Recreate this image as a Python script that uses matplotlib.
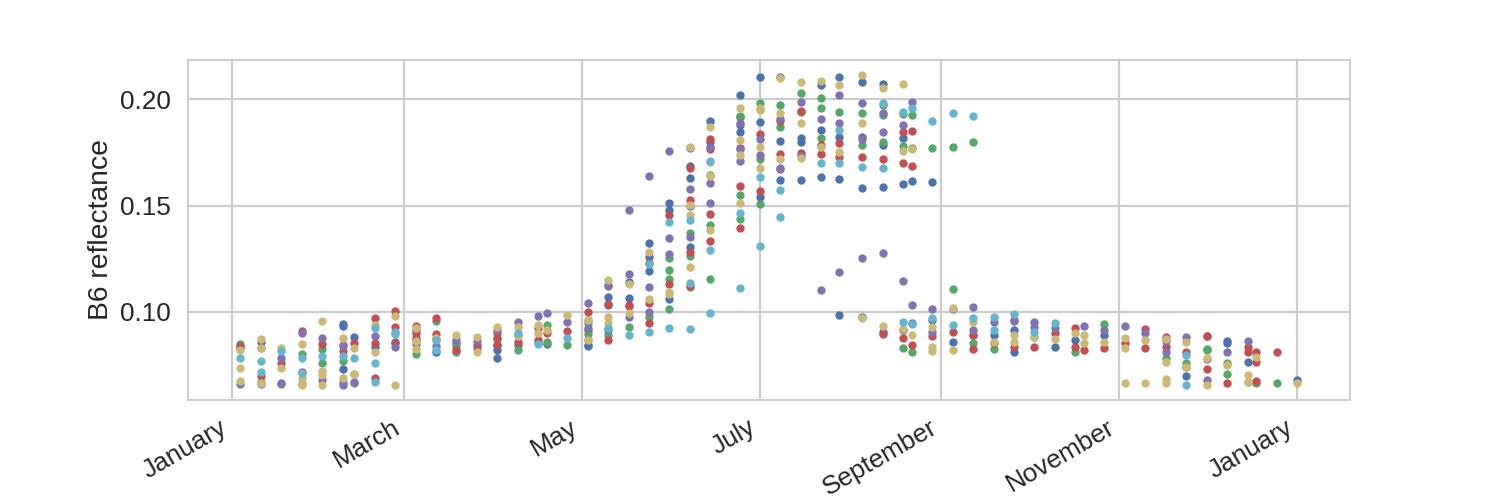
"""Seasonal B6 reflectance scatter, one colour per sample group."""
import matplotlib
matplotlib.use("Agg")
import matplotlib.pyplot as plt
import matplotlib.dates as mdates
import matplotlib.ticker as mticker
import pandas as pd

# day offset from 1 January -> B6 reflectance readings
BLUE = {3: [.083], 10: [.0859], 38: [.0944, .0935, .0728], 42: [.0883], 49: [.0836],
        56: [.0857], 63: [.0915, .0875], 70: [.0808], 77: [.0854], 84: [.0831],
        91: [.0845, .0822, .078], 98: [.0845], 108: [.085], 122: [.0915, .0845, .084],
        129: [.107, .1033], 136: [.1141, .1066], 143: [.1324, .1258, .1192],
        150: [.1512, .1479, .1061], 157: [.1685, .1629, .1498, .1305], 164: [.190, .1798],
        174: [.2023, .1915, .188, .1845], 181: [.2108, .1892, .154], 188: [.2108, .1803, .162],
        195: [.1817, .1798, .162], 202: [.207, .1854, .1634], 208: [.2108, .1822, .1624, .0986],
        216: [.208, .1822, .1582, .0977], 223: [.2075, .1784, .1587, .0906],
        230: [.1817, .1601, .0912], 233: [.1615, .0948], 240: [.161, .096], 247: [.0859],
        254: [.089], 261: [.0892], 268: [.0915, .0808], 282: [.0836], 289: [.0869],
        299: [.0892], 327: [.0695], 334: [.0887], 341: [.0864, .0855], 348: [.0765],
        365: [.068]}
GREEN = {3: [.085], 10: [.0671], 17: [.066], 24: [.0803], 31: [.0826, .076], 38: [.077],
         42: [.0709, .0662], 63: [.0803], 70: [.0958, .0873], 77: [.0838, .0812], 91: [.0873],
         98: [.0822], 105: [.0854], 108: [.0939, .0859], 115: [.0845],
         122: [.0962, .0948, .0897], 129: [.0892], 136: [.093], 143: [.0977],
         150: [.1254, .1197, .1155, .1014], 157: [.1371, .1263, .1118],
         164: [.1643, .1408, .1155], 174: [.192, .155, .1437], 181: [.1981, .1718, .1507],
         188: [.1972, .1869], 195: [.2028, .1939], 202: [.2009, .1962, .1817], 208: [.1939],
         216: [.1934, .1784], 223: [.1976, .1925, .18], 230: [.193, .178, .0831],
         233: [.1925, .177, .0808], 240: [.177], 247: [.1775, .1108], 254: [.180, .0854],
         261: [.0826], 275: [.088], 289: [.0812], 299: [.0944], 320: [.078], 327: [.076],
         334: [.0826, .082], 341: [.076, .0709], 348: [.0671], 351: [.0662], 358: [.0662]}
RED = {3: [.084], 10: [.0831, .0695], 17: [.076], 24: [.0911, .0714], 31: [.085],
       38: [.0845, .0817], 42: [.0854], 49: [.0972, .0854, .069], 56: [.1005, .093, .0854],
       63: [.0934, .0901, .0869], 70: [.0972, .0897], 77: [.0822], 84: [.0845],
       91: [.0901, .0878, .0845], 98: [.0892, .0859], 105: [.0925, .0869], 108: [.0901],
       115: [.0911], 122: [.10, .0865], 129: [.1037, .0869], 136: [.1033, .1028],
       143: [.123, .1042, .0948], 150: [.1455, .1131], 157: [.1676, .1526, .1282, .1122],
       164: [.1812, .1768, .146, .1333], 174: [.177, .1592, .1394], 181: [.1836, .1568],
       188: [.19, .1742, .1672], 195: [.1945, .1746], 202: [.1784, .1742],
       208: [.1793, .1728], 216: [.1728], 223: [.1718, .0897], 230: [.1845, .17, .0878],
       233: [.185, .1685, .0845], 240: [.0885], 247: [.0906], 254: [.0892, .0826],
       261: [.0855], 268: [.0962, .0836], 275: [.0836], 282: [.0901], 289: [.0925, .0836],
       292: [.0822], 299: [.0831], 306: [.0854], 313: [.092, .0831], 320: [.0883, .0836],
       327: [.0812], 334: [.0884, .0732], 341: [.0662], 348: [.0836, .0808],
       351: [.0812, .0765, .0676], 358: [.0812]}
PURPLE = {3: [.066], 10: [.066], 17: [.0784, .0662], 24: [.0901, .066], 31: [.0878, .068],
          38: [.084, .0667, .0657], 42: [.0671], 49: [.0887], 56: [.0836], 63: [.085],
          70: [.084], 77: [.0869], 84: [.0864], 91: [.0915], 98: [.0953], 105: [.0981],
          108: [.0995], 115: [.0953], 122: [.1042, .0925], 129: [.1127, .1122, .0915],
          136: [.1479, .1178, .0977], 143: [.1638, .1117, .10], 150: [.1756, .1347, .1272],
          157: [.177, .1577, .1352], 164: [.1775, .1606, .1512], 174: [.1887, .1765, .1709],
          181: [.1812, .1737], 188: [.1906, .1676], 195: [.1986, .1735], 202: [.1906, .1103],
          208: [.2023, .1887, .1188], 216: [.1981, .1815, .1254], 223: [.1934, .1845, .1277],
          230: [.1878, .1146], 233: [.1986, .1033], 240: [.1014, .0906], 247: [.1012],
          254: [.1023, .0915], 261: [.0953], 268: [.0955], 275: [.0953, .093], 282: [.0925],
          292: [.0934], 299: [.0915], 306: [.0934], 313: [.0901], 320: [.0864, .0812],
          327: [.0883, .0738], 334: [.0778, .068], 341: [.0808], 348: [.0864]}
YELLOW = {3: [.082, .0735, .0675], 10: [.0873, .0831, .0662], 17: [.0831, .0737],
          24: [.085, .069, .0657], 31: [.0958, .0723, .0704, .0657], 38: [.0878, .069],
          42: [.0831, .0706], 49: [.0939, .0808], 56: [.0981, .0657], 63: [.0925, .0862, .0826],
          70: [.0878], 77: [.0892], 84: [.0883, .0808], 91: [.093], 98: [.093, .0887],
          105: [.0939, .0901], 108: [.0915], 115: [.0986], 122: [.0962, .0869],
          129: [.115, .0975, .0948], 136: [.1131, .0995], 143: [.1282, .1061],
          150: [.1094, .1085], 157: [.1775, .1502, .1455, .1211],
          164: [.1869, .1704, .164, .1385], 174: [.1958, .1808, .1737, .1512],
          181: [.1958, .1948, .1775, .1676], 188: [.2099, .1934, .1718],
          195: [.208, .1887, .1723], 202: [.2089, .1777], 208: [.2066, .1751],
          216: [.2113, .1887, .0972], 223: [.2056, .0934], 230: [.2075, .1756, .092],
          233: [.1765, .0892], 240: [.093, .0836, .0815], 247: [.1019, .0822], 254: [.0953],
          261: [.0859], 268: [.0892, .0859], 275: [.0883], 282: [.0873], 289: [.0901],
          292: [.0892, .0854], 299: [.0859], 306: [.0878, .0831, .0662], 313: [.0869, .0662],
          320: [.0873, .0765, .0685, .0662], 327: [.0859, .0742], 334: [.078, .0657],
          341: [.0751], 348: [.0704, .0668], 351: [.0789], 365: [.0662]}
CYAN = {3: [.078], 10: [.077, .0714], 17: [.0817], 24: [.078, .0712], 31: [.0793],
        38: [.0793], 42: [.078], 49: [.0925, .076, .0667], 56: [.0906, .0893],
        70: [.0865, .0822], 98: [.0901], 105: [.085], 115: [.0878], 129: [.0925],
        136: [.0892], 143: [.1225, .0906], 150: [.1423, .0925], 157: [.1432, .1136, .092],
        164: [.1709, .1291, .0995], 174: [.1465, .1113], 181: [.1634, .131],
        188: [.1573, .1446], 202: [.17], 208: [.1854, .17], 216: [.1681], 223: [.1981, .1676],
        230: [.1939, .0953], 233: [.1962, .094], 240: [.19, .0972], 247: [.1934, .0939],
        254: [.192, .0972], 261: [.0977, .0915], 268: [.0991], 275: [.0906], 282: [.0948],
        327: [.0798, .0657]}

START = pd.Timestamp("2017-01-01")
GROUPS = [(BLUE, "#4C72B0"), (GREEN, "#55A868"), (RED, "#C44E52"),
          (PURPLE, "#8172B2"), (YELLOW, "#CCB974"), (CYAN, "#64B5CD")]

plt.rcParams.update({
    "font.family": ["Liberation Sans", "DejaVu Sans"],
    "axes.edgecolor": "#cccccc", "axes.linewidth": 1.4,
    "grid.color": "#cccccc", "grid.linewidth": 1.6,
    "text.color": "#262626", "axes.labelcolor": "#262626",
    "xtick.color": "#262626", "ytick.color": "#262626",
    "xtick.major.size": 0, "ytick.major.size": 0,
    "xtick.major.pad": 11, "ytick.major.pad": 12,
    "xtick.labelsize": 18.8, "ytick.labelsize": 18.8, "axes.labelsize": 20.3,
})

fig, ax = plt.subplots(figsize=(15, 5), dpi=100)
fig.subplots_adjust(left=0.125, right=0.9, top=0.88, bottom=0.2)
for pts, col in GROUPS:
    dates = [START + pd.Timedelta(days=k) for k, vals in pts.items() for _ in vals]
    refl = [v for vals in pts.values() for v in vals]
    ax.plot(dates, refl, "o", color=col, ms=6, mew=0)

ax.grid(True)
ax.set_axisbelow(True)
ax.xaxis.set_major_locator(mdates.MonthLocator(bymonth=[1, 3, 5, 7, 9, 11]))
ax.xaxis.set_major_formatter(mdates.DateFormatter("%B"))
ax.yaxis.set_major_locator(mticker.MultipleLocator(0.05))
ax.yaxis.set_major_formatter(mticker.FormatStrFormatter("%.2f"))
ax.set_ylabel("B6 reflectance")
plt.setp(ax.get_xticklabels(), rotation=30, ha="right")
fig.savefig("out.png", dpi=100)
